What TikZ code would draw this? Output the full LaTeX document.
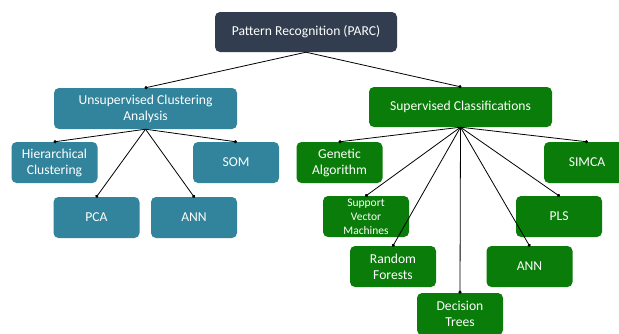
\documentclass[tikz,border=0pt]{standalone}
\usepackage{fontspec}
\setmainfont{Carlito}
\usetikzlibrary{arrows.meta}
\definecolor{rootc}{HTML}{323E4F}
\definecolor{tealc}{HTML}{31849B}
\definecolor{greenc}{HTML}{0A7C0A}
\begin{document}
\begin{tikzpicture}[x=1pt,y=-1pt,
  box/.style={rounded corners=5pt, minimum width=86pt, minimum height=41pt,
    text=white, align=center, inner sep=2pt, font=\fontsize{13.6}{16}\selectfont},
  rootbox/.style={box, fill=rootc, minimum width=182pt, minimum height=40pt},
  tealbox/.style={box, fill=tealc},
  greenbox/.style={box, fill=greenc},
  conn/.style={draw=black, line width=0.8pt, -{Circle[length=3.2pt]}, shorten >=-1pt}
]
\useasboundingbox (0,0) rectangle (619,333);
\clip (0,0) rectangle (619,333);
\fill[white] (0,0) rectangle (619,333);

\node[rootbox] (root) at (306,32) {Pattern Recognition (PARC)};
\node[tealbox, minimum width=183pt] (uns) at (145.5,108.5) {Unsupervised Clustering\\Analysis};
\node[greenbox, minimum width=183pt, minimum height=40pt] (sup) at (460.5,107) {Supervised Classifications};

\node[tealbox] (hier) at (54.5,162.5) {Hierarchical\\Clustering};
\node[tealbox] (som) at (236,162.5) {SOM};
\node[tealbox] (pca) at (96.5,217.5) {PCA};
\node[tealbox] (annl) at (194,217.5) {ANN};

\node[greenbox] (gen) at (339.5,162.5) {Genetic\\Algorithm};
\node[greenbox] (simca) at (587,162.5) {SIMCA};
\node[greenbox, font=\fontsize{11.5}{14}\selectfont] (svm) at (366,216.5) {Support\\Vector\\Machines};
\node[greenbox] (pls) at (559,216.5) {PLS};
\node[greenbox] (rf) at (393,266.5) {Random\\Forests};
\node[greenbox] (annr) at (529.5,266.5) {ANN};
\node[greenbox, minimum height=42pt] (dt) at (460,314) {Decision\\Trees};

\draw[conn] (root.south) -- (uns.north);
\draw[conn] (root.south) -- (sup.north);

\draw[conn] (uns.south) -- (hier.north);
\draw[conn] (uns.south) -- (som.north);
\draw[conn] (uns.south) -- (pca.north);
\draw[conn] (uns.south) -- (annl.north);

\draw[conn] (sup.south) -- (gen.north);
\draw[conn] (sup.south) -- (simca.north);
\draw[conn] (sup.south) -- (svm.north);
\draw[conn] (sup.south) -- (pls.north);
\draw[conn] (sup.south) -- (rf.north);
\draw[conn] (sup.south) -- (annr.north);
\draw[conn] (sup.south) -- (dt.north);
\end{tikzpicture}
\end{document}
